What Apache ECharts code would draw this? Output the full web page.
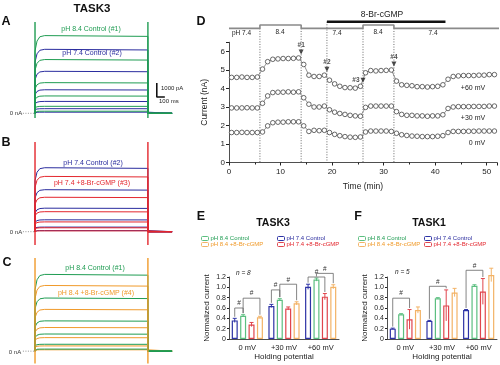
<!DOCTYPE html>
<html><head><meta charset="utf-8">
<script src="https://cdn.jsdelivr.net/npm/echarts@6/dist/echarts.min.js"></script>
<style>html,body{margin:0;padding:0;background:#fff}#c{width:500px;height:365px}</style>
</head><body><div id="c"></div>
<script>
// ---------- Panels A-C: step current levels (nA) for steps +60,+30,0,-30,-60,-90 mV ----------
const stepVoltages = ['+60', '+30', '0', '-30', '-60', '-90'];
const tracePH84Control = [5.55, 3.84, 2.19, 1.24, 0.50, 0.15];
const tracePH74Control = [4.57, 3.00, 1.68, 0.85, 0.33, 0.08];
const tracePH74cGMP    = [3.95, 2.46, 1.43, 0.70, 0.28, 0.06];
const tracePH84cGMP    = [4.75, 3.02, 1.71, 0.98, 0.38, 0.10];
const transientA = [6.52, -0.34];
const transientB = [6.40, -0.95];
const transientC = [6.74, -0.90];

// ---------- Panel D: time course ----------
const dTime = [0.5,1.5,2.5,3.5,4.5,5.5,6.5,7.5,8.5,9.5,10.5,11.5,12.5,13.5,14.5,15.5,16.5,17.5,18.5,19.5,20.5,21.5,22.5,23.5,24.5,25.5,26.5,27.5,28.5,29.5,30.5,31.5,32.5,33.5,34.5,35.5,36.5,37.5,38.5,39.5,40.5,41.5,42.5,43.5,44.5,45.5,46.5,47.5,48.5,49.5,50.5,51.5];
const dCurrent60 = [4.6,4.6,4.62,4.6,4.6,4.62, 5.05,5.45,5.58,5.6,5.62,5.62,5.63,5.65, 5.3,4.72,4.65,4.65,4.72, 4.45,4.25,4.12,4.05,4.04,4.02,4.12, 4.85,4.97,4.95,4.97,4.98,5.0, 4.4,4.2,4.17,4.15,4.1,4.1,4.08,4.1,4.12,4.2, 4.5,4.65,4.68,4.7,4.7,4.7,4.72,4.72,4.75,4.75];
const dCurrent30 = [2.95,2.95,2.95,2.96,2.95,2.95, 3.2,3.6,3.78,3.8,3.8,3.82,3.8,3.82, 3.5,3.15,3.0,3.0,3.05, 2.85,2.72,2.65,2.6,2.55,2.52,2.5, 2.98,3.05,3.05,3.05,3.05,3.05, 2.75,2.6,2.55,2.55,2.52,2.52,2.5,2.52,2.52,2.58, 2.92,3.0,3.02,3.02,3.02,3.03,3.03,3.03,3.05,3.05];
const dCurrent0  = [1.62,1.62,1.63,1.62,1.62,1.62, 1.65,1.98,2.15,2.18,2.18,2.2,2.2,2.2, 1.98,1.68,1.74,1.72,1.74, 1.62,1.52,1.45,1.4,1.37,1.36,1.38, 1.65,1.7,1.7,1.7,1.7,1.68, 1.58,1.5,1.46,1.43,1.42,1.4,1.4,1.4,1.42,1.45, 1.62,1.68,1.68,1.68,1.69,1.69,1.7,1.7,1.7,1.7];
const phTimes  = [0, 6, 14, 26, 32, 52.5];
const phValues = ['7.4', '8.4', '7.4', '8.4', '7.4'];
const cgmpWindow = [19, 42];
const eventTimes = [6, 14, 19, 26, 32];
const markerEvents = [[14, '#1'], [19, '#2'], [26, '#3'], [32, '#4']];
const dTicks = [0, 10, 20, 30, 40, 50];

// ---------- Panels E, F ----------
const categories = ['0 mV', '+30 mV', '+60 mV'];
const seriesNames = ['pH 7.4 Control', 'pH 8.4 Control', 'pH 7.4 +8-Br-cGMP', 'pH 8.4 +8-Br-cGMP'];
const eValues = [[0.36, 0.64, 1.01], [0.45, 0.76, 1.15], [0.28, 0.59, 0.82], [0.42, 0.69, 1.01]];
const eErrors = [[0.04, 0.03, 0.05], [0.02, 0.02, 0.03], [0.04, 0.03, 0.06], [0.02, 0.03, 0.04]];
const fValues = [[0.20, 0.35, 0.56], [0.48, 0.79, 1.03], [0.38, 0.65, 0.92], [0.56, 0.90, 1.24]];
const fErrors = [[0.01, 0.01, 0.01], [0.01, 0.01, 0.02], [0.19, 0.30, 0.25], [0.06, 0.08, 0.13]];
const eBrackets = [[0, 0, 1, 0.60], [0, 1, 3, 0.79], [1, 0, 1, 0.95], [1, 1, 3, 1.06], [2, 0, 2, 1.20], [2, 1, 3, 1.27]];
const fBrackets = [[0, 0, 2, 0.79], [1, 0, 2, 1.02], [2, 0, 2, 1.33]];
const yTicksEF = [0, 0.2, 0.4, 0.6, 0.8, 1.0, 1.2];

// ---------- styling ----------
const FONT = 'Liberation Sans, Arial, sans-serif';
const GREEN = '#1f9c52', BLUE = '#2a2c9e', RED = '#e3262d', ORANGE = '#f09a2a';
const barColors = ['#2d33a6', '#5cbf80', '#e0454d', '#f3b366'];
const PH_LOW = 7.25, PH_HIGH = 7.43, CGMP_LEVEL = 7.61;
const BAR_W = 6, BAR_STEP = 8.4;

function stepTrace(level) {
  return [[0, 0], [0, level * 0.8], [25, level * 0.93], [60, level * 0.985], [120, level],
          [1400, level * 0.99], [1400, 0], [1700, 0]];
}
const series = [];
function traceLine(grid, level, color) {
  series.push({type: 'line', xAxisIndex: grid, yAxisIndex: grid, data: stepTrace(level), showSymbol: false,
    lineStyle: {color: color, width: 1}, silent: true});
}
function transient(grid, tr, color) {
  [0, 1400].forEach(t => series.push({type: 'line', xAxisIndex: grid, yAxisIndex: grid,
    data: [[t, tr[1]], [t, tr[0]]], showSymbol: false, lineStyle: {color: color, width: 1.4}, silent: true}));
}
function zeroDots(grid) {
  series.push({type: 'line', xAxisIndex: grid, yAxisIndex: grid, data: [[-150, 0], [0, 0]], showSymbol: false,
    lineStyle: {color: '#777', width: 0.8, type: [1, 1.5]}, silent: true});
}
// A
zeroDots(0);
tracePH74Control.forEach(v => traceLine(0, v, BLUE));
tracePH84Control.forEach(v => traceLine(0, v, GREEN));
transient(0, transientA, GREEN);
series.push({type: 'line', xAxisIndex: 0, yAxisIndex: 0, data: [[1510, 2.16], [1510, 1.16], [1610, 1.16]],
  showSymbol: false, lineStyle: {color: '#111', width: 1.6}, silent: true});
// B
zeroDots(1);
tracePH74Control.forEach(v => traceLine(1, v, BLUE));
tracePH74cGMP.forEach(v => traceLine(1, v, RED));
transient(1, transientB, RED);
// C
zeroDots(2);
tracePH84cGMP.forEach(v => traceLine(2, v, ORANGE));
tracePH84Control.forEach(v => traceLine(2, v, GREEN));
transient(2, transientC, ORANGE);

// D
const phLine = [];
phValues.forEach((p, j) => { const y = p === '8.4' ? PH_HIGH : PH_LOW; phLine.push([phTimes[j], y], [phTimes[j + 1], y]); });
series.push({type: 'line', xAxisIndex: 3, yAxisIndex: 3, data: phLine, showSymbol: false, clip: false,
  lineStyle: {color: '#8a8a8a', width: 1.6}, silent: true});
series.push({type: 'line', xAxisIndex: 3, yAxisIndex: 3, data: cgmpWindow.map(t => [t, CGMP_LEVEL]), showSymbol: false, clip: false,
  lineStyle: {color: '#111', width: 2.6}, silent: true});
series.push({type: 'custom', xAxisIndex: 3, yAxisIndex: 3, data: eventTimes.map(t => [t]), silent: true,
  renderItem: function (params, api) {
    const t = api.value(0);
    const top = api.coord([t, t === cgmpWindow[0] ? CGMP_LEVEL : PH_LOW]);
    const bot = api.coord([t, 0]);
    return {type: 'line', shape: {x1: top[0], y1: top[1], x2: bot[0], y2: bot[1]},
      style: {stroke: '#444', lineWidth: 0.8, lineDash: [1, 1.6]}};
  }});
[dCurrent60, dCurrent30, dCurrent0].forEach(arr => series.push({type: 'line', xAxisIndex: 3, yAxisIndex: 3,
  data: dTime.map((t, i) => [t, arr[i]]), symbol: 'circle', symbolSize: 4.6, showSymbol: true,
  itemStyle: {color: '#fff', borderColor: '#444', borderWidth: 0.8}, lineStyle: {color: '#666', width: 0.7}, silent: true, z: 4}));
series.push({type: 'scatter', xAxisIndex: 3, yAxisIndex: 3, symbol: 'triangle', symbolRotate: 180, symbolSize: [5, 5],
  itemStyle: {color: '#222'}, silent: true, z: 5,
  data: markerEvents.map(([t, lab]) => {
    const idx = dTime.indexOf(t - 0.5);
    return {value: [t, dCurrent60[idx] + 0.32], name: lab,
      label: {show: true, formatter: lab, position: lab === '#3' ? 'left' : 'top', distance: 1,
        fontSize: 6.5, fontWeight: 'bold', color: '#222', fontFamily: FONT}};
  })});

// E, F
function barPanel(grid, values, errors, brackets) {
  values.forEach((vals, k) => {
    series.push({type: 'bar', name: seriesNames[k], xAxisIndex: grid, yAxisIndex: grid, data: vals,
      barWidth: BAR_W, barGap: '40%', clip: false, silent: true,
      itemStyle: {color: 'rgba(255,255,255,0.9)', borderColor: barColors[k], borderWidth: 1.2}});
  });
  values.forEach((vals, k) => {
    series.push({type: 'custom', xAxisIndex: grid, yAxisIndex: grid, silent: true, z: 4,
      data: vals.map((v, i) => [i, v, errors[k][i]]),
      renderItem: function (params, api) {
        const hi = api.coord([api.value(0), api.value(1) + api.value(2)]);
        const lo = api.coord([api.value(0), api.value(1) - api.value(2)]);
        const x = hi[0] + (k - 1.5) * BAR_STEP;
        return {type: 'group', children: [
          {type: 'line', shape: {x1: x, y1: hi[1], x2: x, y2: lo[1]}, style: {stroke: barColors[k], lineWidth: 1}},
          {type: 'line', shape: {x1: x - 2, y1: hi[1], x2: x + 2, y2: hi[1]}, style: {stroke: barColors[k], lineWidth: 1}}]};
      }});
  });
  series.push({type: 'custom', xAxisIndex: grid, yAxisIndex: grid, silent: true, z: 5,
    data: brackets.map(b => [b[0], b[1], b[2], b[3],
      values[b[1]][b[0]] + errors[b[1]][b[0]] + 0.03, values[b[2]][b[0]] + errors[b[2]][b[0]] + 0.03]),
    renderItem: function (params, api) {
      const c = api.value(0);
      const p = api.coord([c, api.value(3)]);
      const x1 = p[0] + (api.value(1) - 1.5) * BAR_STEP, x2 = p[0] + (api.value(2) - 1.5) * BAR_STEP;
      const b1 = api.coord([c, api.value(4)])[1], b2 = api.coord([c, api.value(5)])[1];
      const st = {stroke: '#666', lineWidth: 0.8};
      return {type: 'group', children: [
        {type: 'line', shape: {x1: x1, y1: p[1], x2: x2, y2: p[1]}, style: st},
        {type: 'line', shape: {x1: x1, y1: p[1], x2: x1, y2: b1}, style: st},
        {type: 'line', shape: {x1: x2, y1: p[1], x2: x2, y2: b2}, style: st},
        {type: 'text', x: (x1 + x2) / 2, y: p[1] - 1, style: {text: '#', fontSize: 6.5, fontFamily: FONT, fill: '#333',
          textAlign: 'center', textVerticalAlign: 'bottom', align: 'center', verticalAlign: 'bottom'}}]};
    }});
}
barPanel(4, eValues, eErrors, eBrackets);
barPanel(5, fValues, fErrors, fBrackets);

// ---------- axes ----------
const hiddenX = {type: 'value', min: -180, max: 1700, show: false};
const hiddenY = {type: 'value', min: -1, max: 6.8, show: false};
const axisLine = {lineStyle: {color: '#222', width: 0.8}};
function efX(grid) {
  return {type: 'category', gridIndex: grid, data: categories, axisLine: axisLine, axisTick: {show: false},
    axisLabel: {fontSize: 7.5, color: '#222', margin: 5, fontFamily: FONT},
    name: 'Holding potential', nameLocation: 'middle', nameGap: 14,
    nameTextStyle: {fontSize: 8, color: '#222', fontFamily: FONT}};
}
function efY(grid) {
  return {type: 'value', gridIndex: grid, min: 0, max: 1.2, interval: 0.2, axisLine: {show: true, lineStyle: {color: '#222', width: 0.8}},
    axisTick: {show: true, length: 2, lineStyle: {color: '#222'}}, splitLine: {show: false},
    axisLabel: {fontSize: 7, color: '#222', margin: 3, fontFamily: FONT,
      formatter: v => { const t = yTicksEF.find(x => Math.abs(x - v) < 1e-6); return t === 0 ? '0' : (t !== undefined ? t.toFixed(1) : ''); }},
    name: 'Normalized current', nameLocation: 'middle', nameGap: 18,
    nameTextStyle: {fontSize: 8, color: '#222', fontFamily: FONT}};
}

// ---------- text annotations ----------
function txt(x, y, text, size, color, opt) {
  opt = opt || {};
  return {type: 'text', x: x, y: y, silent: true, z: 100,
    style: {text: text, fontSize: size, fill: color || '#222', fontFamily: FONT,
      fontWeight: opt.bold ? 'bold' : 'normal', fontStyle: opt.italic ? 'italic' : 'normal',
      textAlign: opt.align || 'center', align: opt.align || 'center',
      textVerticalAlign: 'middle', verticalAlign: 'middle'}};
}
const graphics = [
  txt(92, 9, 'TASK3', 11.5, '#111', {bold: true}),
  txt(6, 22, 'A', 12.5, '#111', {bold: true}),
  txt(6, 143, 'B', 12.5, '#111', {bold: true}),
  txt(7, 263, 'C', 12.5, '#111', {bold: true}),
  txt(201, 22, 'D', 12.5, '#111', {bold: true}),
  txt(201, 217, 'E', 12.5, '#111', {bold: true}),
  txt(358, 217, 'F', 12.5, '#111', {bold: true}),
  txt(91, 29, 'pH 8.4 Control (#1)', 7, GREEN),
  txt(92, 53, 'pH 7.4 Control (#2)', 7, BLUE),
  txt(93, 163, 'pH 7.4 Control (#2)', 7, BLUE),
  txt(92, 183, 'pH 7.4 +8-Br-cGMP (#3)', 7, RED),
  txt(95, 268, 'pH 8.4 Control (#1)', 7, GREEN),
  txt(96, 293, 'pH 8.4 +8-Br-cGMP (#4)', 7, ORANGE),
  txt(16, 113, '0 nA', 6, '#333'),
  txt(16, 232, '0 nA', 6, '#333'),
  txt(15, 352, '0 nA', 6, '#333'),
  txt(161, 88, '1000 pA', 6, '#222', {align: 'left'}),
  txt(159, 101, '100 ms', 6, '#222', {align: 'left'}),
  txt(382, 15, '8-Br-cGMP', 8.5, '#222'),
  txt(232, 33, 'pH 7.4', 6.5, '#222', {align: 'left'}),
  txt(280, 32, '8.4', 6.5, '#222'),
  txt(337, 33, '7.4', 6.5, '#222'),
  txt(378, 32, '8.4', 6.5, '#222'),
  txt(433, 33, '7.4', 6.5, '#222'),
  txt(473, 88, '+60 mV', 7, '#222'),
  txt(473, 118, '+30 mV', 7, '#222'),
  txt(477, 143, '0 mV', 7, '#222'),
  txt(273, 223, 'TASK3', 10.5, '#111', {bold: true}),
  txt(429, 223, 'TASK1', 10.5, '#111', {bold: true}),
  txt(236, 273, 'n = 8', 6.5, '#222', {align: 'left', italic: true}),
  txt(395, 272, 'n = 5', 6.5, '#222', {align: 'left', italic: true})
];

// ---------- legends ----------
const legendColors = [BLUE, GREEN, RED, ORANGE];
const legendPos = {E: [[277, 239], [201, 239], [277, 245], [201, 245]], F: [[424, 239], [358, 239], [424, 245], [358, 245]]};
const legends = [];
['E', 'F'].forEach(p => seriesNames.forEach((n, k) => legends.push({
  data: [n], left: legendPos[p][k][0], top: legendPos[p][k][1] - 3.5, padding: 0, itemGap: 0,
  itemWidth: 7, itemHeight: 4, selectedMode: false,
  itemStyle: {color: '#fff', borderColor: barColors[k], borderWidth: 1},
  textStyle: {fontSize: 6, color: legendColors[k], fontFamily: FONT, padding: [0, 0, 0, -3]}
})));

const option = {
  animation: false,
  textStyle: {fontFamily: FONT},
  legend: legends,
  graphic: graphics,
  grid: [
    {left: 20.5, top: 18.1, width: 151.6, height: 109.2},
    {left: 20.5, top: 136.5, width: 151.6, height: 109.2},
    {left: 20.5, top: 257.1, width: 151.6, height: 109.2},
    {left: 229, top: 42.25, width: 268.3, height: 120.25},
    {left: 229, top: 277, width: 110, height: 62},
    {left: 387, top: 277, width: 110, height: 62}
  ],
  xAxis: [
    Object.assign({gridIndex: 0}, hiddenX), Object.assign({gridIndex: 1}, hiddenX), Object.assign({gridIndex: 2}, hiddenX),
    {type: 'value', gridIndex: 3, min: 0, max: 52, interval: 10, axisLine: axisLine,
      axisTick: {show: true, length: 3, lineStyle: {color: '#222'}}, minorTick: {show: true, splitNumber: 2, length: 2, lineStyle: {color: '#222'}},
      splitLine: {show: false},
      axisLabel: {fontSize: 8, color: '#222', margin: 5, fontFamily: FONT, formatter: v => dTicks.indexOf(v) >= 0 ? String(v) : ''},
      name: 'Time (min)', nameLocation: 'middle', nameGap: 20, nameTextStyle: {fontSize: 8.5, color: '#222', fontFamily: FONT}},
    efX(4), efX(5)
  ],
  yAxis: [
    Object.assign({gridIndex: 0}, hiddenY), Object.assign({gridIndex: 1}, hiddenY), Object.assign({gridIndex: 2}, hiddenY),
    {type: 'value', gridIndex: 3, min: 0, max: 6.5, interval: 1, axisLine: {show: true, lineStyle: {color: '#222', width: 0.8}},
      axisTick: {show: true, length: 3, lineStyle: {color: '#222'}}, splitLine: {show: false},
      axisLabel: {fontSize: 8, color: '#222', margin: 4, fontFamily: FONT, formatter: v => Number.isInteger(v) ? String(v) : ''},
      name: 'Current (nA)', nameLocation: 'middle', nameGap: 18, nameTextStyle: {fontSize: 8.5, color: '#222', fontFamily: FONT}},
    efY(4), efY(5)
  ],
  series: series
};
const chart = echarts.init(document.getElementById('c'), null, {renderer: 'canvas'});
chart.setOption(option);
</script></body></html>
